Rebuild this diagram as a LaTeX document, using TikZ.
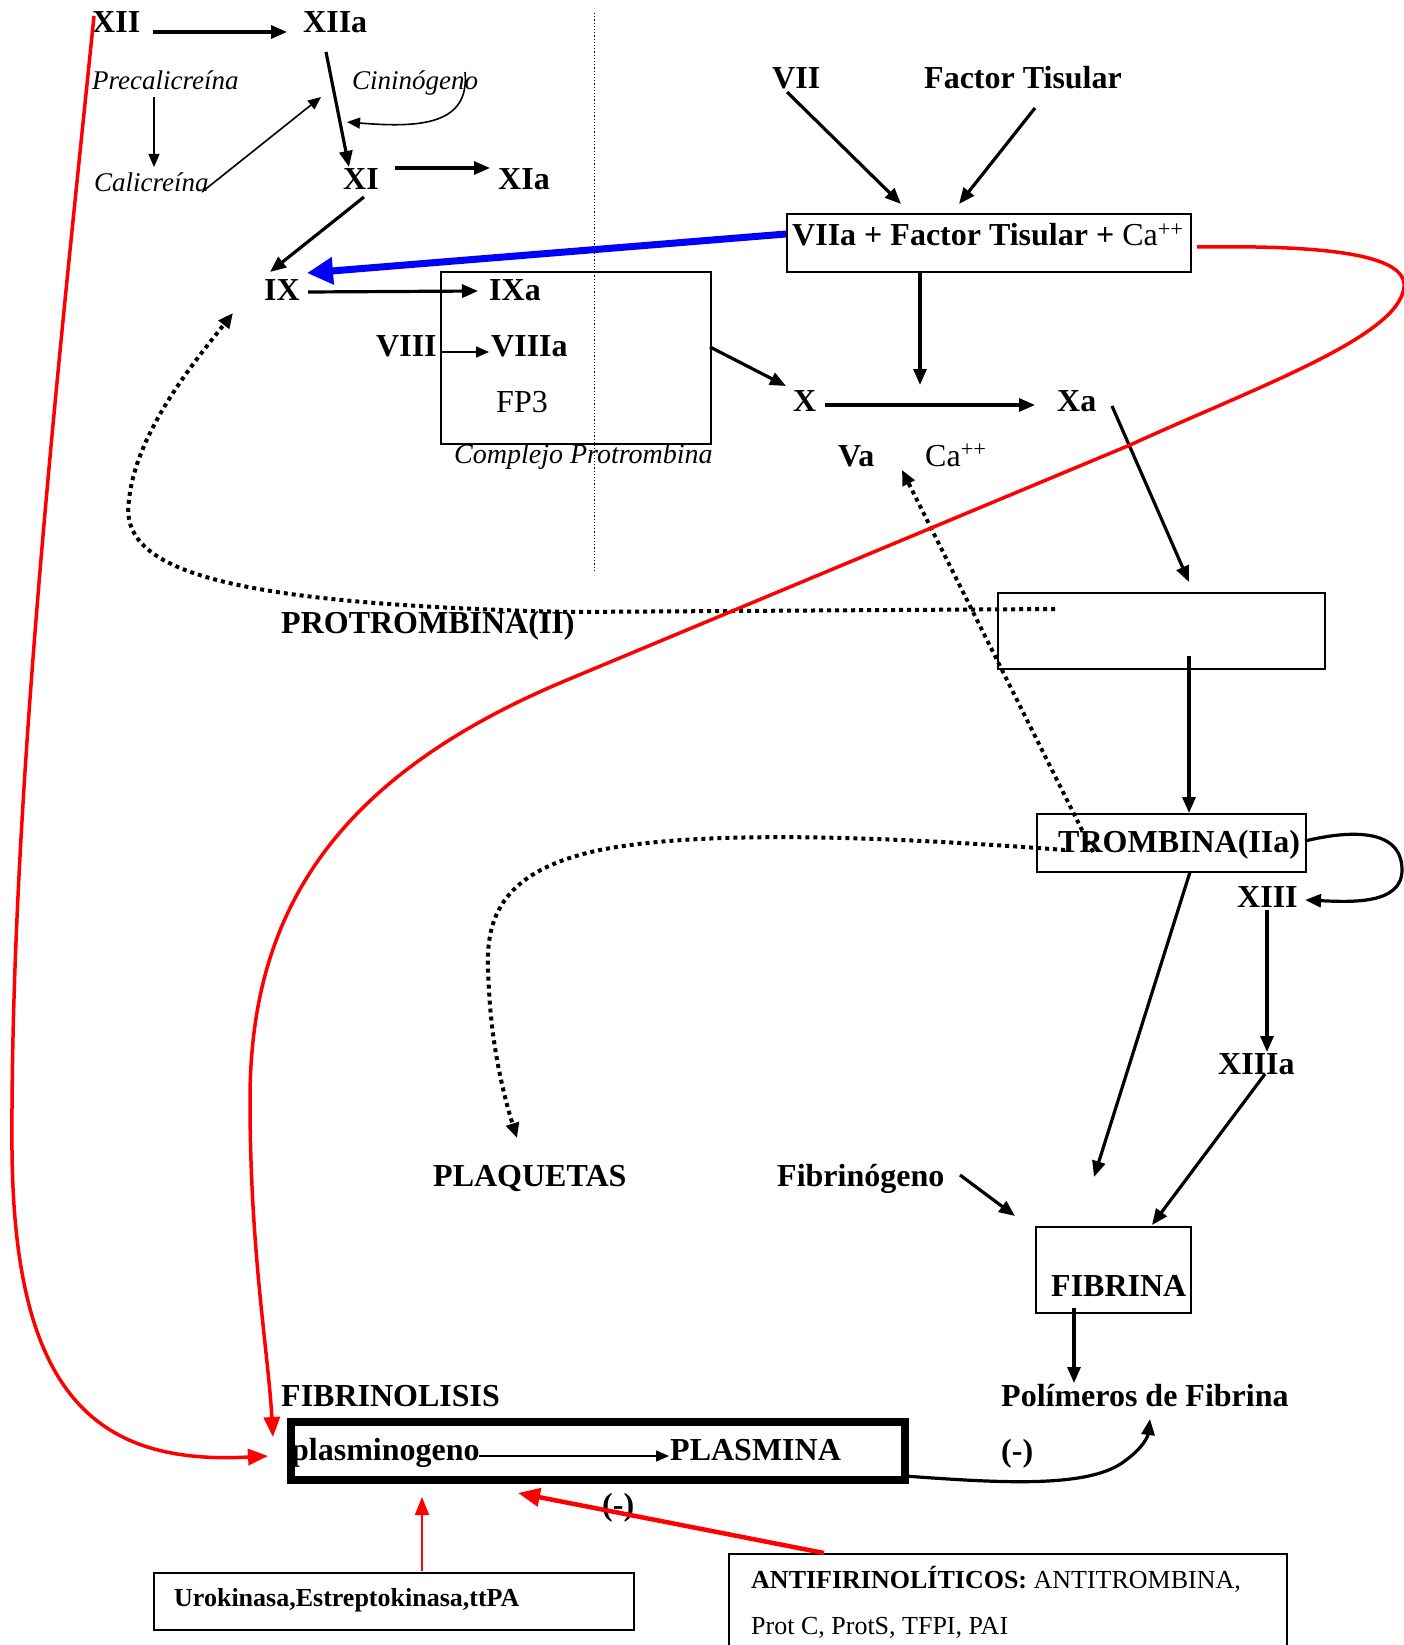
\documentclass[tikz,border=0pt]{standalone}
\usepackage{fontspec}
\setmainfont{Liberation Serif}
\usetikzlibrary{arrows.meta}
\begin{document}
\begin{tikzpicture}[x=1pt,y=-1pt,
 lbl/.style={inner sep=0pt, anchor=base west, font=\fontsize{32}{38}\selectfont\bfseries},
 lblr/.style={inner sep=0pt, anchor=base west, font=\fontsize{32}{38}\selectfont},
 ital/.style={inner sep=0pt, anchor=base west, font=\fontsize{27}{32}\selectfont\itshape},
 small/.style={inner sep=0pt, anchor=base west, font=\fontsize{26}{31}\selectfont},
 box/.style={draw, line width=2pt, inner sep=0pt, anchor=north west},
 arr/.style={line width=3.2pt, -{Triangle[length=16pt,width=13pt]}},
 thinarr/.style={line width=1.6pt, -{Triangle[length=13pt,width=11pt]}},
 dots/.style={line width=4pt, dash pattern=on 4pt off 4pt},
 redarr/.style={red, line width=3.5pt, -{Triangle[length=20pt,width=16pt]}},
 bluarr/.style={blue, line width=7pt, -{Triangle[length=26pt,width=26pt]}}
]
\useasboundingbox (0,0) rectangle (1403,1645);
\fill[white] (0,0) rectangle (1403,1645);

% thin vertical dotted line
\coordinate (vt) at (594,13);
\coordinate (vb) at (594,571);
\draw[line width=1pt, dash pattern=on 1.2pt off 2pt] (vt) -- (vb);

% boxes
\node[box, minimum width=270pt, minimum height=172pt] (cplx) at (440,271) {};
\node[box, minimum width=404pt, minimum height=58pt] (vbox) at (786,213) {};
\node[box, minimum width=327pt, minimum height=76pt] (pbox) at (997,592) {};
\node[box, minimum width=269pt, minimum height=58pt] (tbox) at (1036,813) {};
\node[box, minimum width=155pt, minimum height=86pt] (fbox) at (1035,1226) {};
\node[draw, line width=7.5pt, inner sep=0pt, anchor=north west, minimum width=614pt, minimum height=58pt] (flbox) at (287,1418) {};
\node[box, minimum width=480pt, minimum height=57pt] (ubox) at (153,1572) {};
\node[box, minimum width=558pt, minimum height=120pt] (abox) at (728,1553) {};

% labels
\node[lbl] (xii) at (92,33) {XII};
\node[lbl] (xiia) at (303,33) {XIIa};
\node[ital] (prec) at (92,90) {Precalicreína};
\node[ital] (cinin) at (352,90) {Cininógeno};
\node[ital] (calic) at (94,192) {Calicreína};
\node[lbl] (xi) at (343,190) {XI};
\node[lbl] (xia) at (498,190) {XIa};
\node[lbl] (ix) at (264,300) {IX};
\node[lbl] (ixa) at (489,300) {IXa};
\node[lbl] (viii) at (376,356) {VIII};
\node[lbl] (viiia) at (491,356) {VIIIa};
\node[lblr] (fp3) at (496,412) {FP3};
\node[inner sep=0pt, anchor=base west, font=\fontsize{28}{33}\selectfont\itshape] (cplxl) at (454,463) {Complejo Protrombina};
\node[lbl] (vii) at (772,89) {VII};
\node[lbl] (ft) at (924,89) {Factor Tisular};
\node[lblr] (vtext) at (792,246) {\textbf{VIIa + Factor Tisular +} Ca\textsuperscript{++}};
\node[lbl] (x) at (793,411) {X};
\node[lbl] (xa) at (1057,411) {Xa};
\node[lbl] (va) at (838,466) {Va};
\node[lblr] (ca) at (925,466) {Ca\textsuperscript{++}};
\node[lbl] (protro) at (281,633) {PROTROMBINA(II)};
\node[lbl] (trombina) at (1058,852) {TROMBINA(IIa)};
\node[lbl] (xiii) at (1237,907) {XIII};
\node[lbl] (xiiia) at (1218,1074) {XIIIa};
\node[lbl] (plaq) at (433,1186) {PLAQUETAS};
\node[lbl] (fibrinog) at (777,1186) {Fibrinógeno};
\node[lbl] (fibrina) at (1051,1296) {FIBRINA};
\node[lbl] (polim) at (1001,1406) {Polímeros de Fibrina};
\node[lbl] (negr) at (1001,1461) {(-)};
\node[lbl] (fibrinol) at (281,1406) {FIBRINOLISIS};
\node[lbl] (plasmg) at (291,1460) {plasminogeno};
\node[lbl] (plasmina) at (670,1460) {PLASMINA};
\node[lbl] (negm) at (602,1515) {(-)};
\node[small, font=\fontsize{26}{31}\selectfont\bfseries] (uro) at (174,1606) {Urokinasa,Estreptokinasa,ttPA};
\node[small] (anti1) at (751,1588) {\textbf{ANTIFIRINOLÍTICOS:} ANTITROMBINA,};
\node[small] (anti2) at (751,1634) {Prot C, ProtS, TFPI, PAI};

% coordinates for connectors
\coordinate (a1) at (153,32); \coordinate (a2) at (287,32);
\coordinate (b1) at (154,97); \coordinate (b2) at (154,167);
\coordinate (c1) at (202,192); \coordinate (c2) at (321,97);
\coordinate (d1) at (465,72); \coordinate (d2) at (347,122);
\coordinate (e1) at (326,52); \coordinate (e2) at (349,167);
\coordinate (f1) at (395,168); \coordinate (f2) at (490,168);
\coordinate (g1) at (364,197); \coordinate (g2) at (270,272);
\coordinate (h1) at (786,234); \coordinate (h2) at (307,273);
\coordinate (i1) at (308,292); \coordinate (i2) at (478,291);
\coordinate (j1) at (441,352); \coordinate (j2) at (489,352);
\coordinate (k1) at (710,347); \coordinate (k2) at (786,386);
\coordinate (l1) at (787,92); \coordinate (l2) at (901,204);
\coordinate (m1) at (1035,108); \coordinate (m2) at (959,204);
\coordinate (n1) at (920,271); \coordinate (n2) at (920,385);
\coordinate (o1) at (825,405); \coordinate (o2) at (1035,405);
\coordinate (p1) at (1112,406); \coordinate (p2) at (1189,582);
\coordinate (q1) at (1189,656); \coordinate (q2) at (1189,813);
\coordinate (r1) at (1093,852); \coordinate (r2) at (902,470);
\coordinate (s1) at (1055,609); \coordinate (s2) at (233,313);
\coordinate (t1) at (1065,850); \coordinate (t2) at (517,1138);
\coordinate (u1) at (1305,841); \coordinate (u2) at (1305,900);
\coordinate (w1) at (1267,910); \coordinate (w2) at (1267,1052);
\coordinate (y1) at (1265,1074); \coordinate (y2) at (1152,1225);
\coordinate (z1) at (1190,872); \coordinate (z2) at (1094,1177);
\coordinate (fa1) at (960,1175); \coordinate (fa2) at (1015,1216);
\coordinate (fb1) at (1074,1308); \coordinate (fb2) at (1074,1383);
\coordinate (pl1) at (479,1456); \coordinate (pl2) at (669,1456);
\coordinate (pp1) at (905,1476); \coordinate (pp2) at (1150,1419);
\coordinate (rx1) at (94,16); \coordinate (rx2) at (268,1456);
\coordinate (rv1) at (1197,247); \coordinate (rv2) at (273,1437);
\coordinate (ru1) at (422,1571); \coordinate (ru2) at (422,1497);
\coordinate (ra1) at (824,1553); \coordinate (ra2) at (518,1493);

% black arrows
\draw[arr] (a1) -- (a2);
\draw[thinarr] (b1) -- (b2);
\draw[thinarr] (c1) -- (c2);
\draw[thinarr] (d1) .. controls (470,125) and (420,128) .. (d2);
\draw[arr] (e1) -- (e2);
\draw[arr] (f1) -- (f2);
\draw[arr] (g1) -- (g2);
\draw[arr] (i1) -- (i2);
\draw[thinarr] (j1) -- (j2);
\draw[arr] (k1) -- (k2);
\draw[arr] (l1) -- (l2);
\draw[arr] (m1) -- (m2);
\draw[arr] (n1) -- (n2);
\draw[arr] (o1) -- (o2);
\draw[arr] (p1) -- (p2);
\draw[arr] (q1) -- (q2);
\draw[arr] (u1) .. controls (1350,830) and (1402,828) .. (1402,870) .. controls (1402,905) and (1350,902) .. (u2);
\draw[arr] (w1) -- (w2);
\draw[arr] (y1) -- (y2);
\draw[arr] (z1) -- (z2);
\draw[arr] (fa1) -- (fa2);
\draw[arr] (fb1) -- (fb2);
\draw[thinarr] (pl1) -- (pl2);
\draw[arr] (pp1) .. controls (1000,1483) and (1085,1488) .. (1122,1463) .. controls (1145,1447) and (1148,1435) .. (pp2);

% dotted arrows
\draw[dots, -{Triangle[length=15pt,width=13pt]}] (r1) -- (r2);
\draw[dots, -{Triangle[length=15pt,width=13pt]}] (s1) -- (570,612) .. controls (220,604) and (118,570) .. (129,500) .. controls (136,430) and (200,355) .. (s2);
\draw[dots, -{Triangle[length=15pt,width=13pt]}] (t1) .. controls (880,836) and (700,830) .. (600,850) .. controls (480,875) and (486,940) .. (489,990) .. controls (492,1050) and (505,1100) .. (t2);

% blue arrow
\draw[bluarr] (h1) -- (h2);

% red arrows
\draw[redarr] (rx1) .. controls (60,350) and (10,800) .. (12,1150) .. controls (14,1400) and (100,1465) .. (rx2);
\draw[redarr] (rv1) .. controls (1330,245) and (1415,255) .. (1403,292) .. controls (1390,340) and (1250,390) .. (1130,445) -- (567,680) .. controls (327,780) and (250,920) .. (250,1100) .. controls (250,1250) and (268,1350) .. (rv2);
\draw[red, line width=2pt, -{Triangle[length=18pt,width=14pt]}] (ru1) -- (ru2);
\draw[red, line width=4.5pt, -{Triangle[length=22pt,width=18pt]}] (ra1) -- (ra2);

\end{tikzpicture}
\end{document}
